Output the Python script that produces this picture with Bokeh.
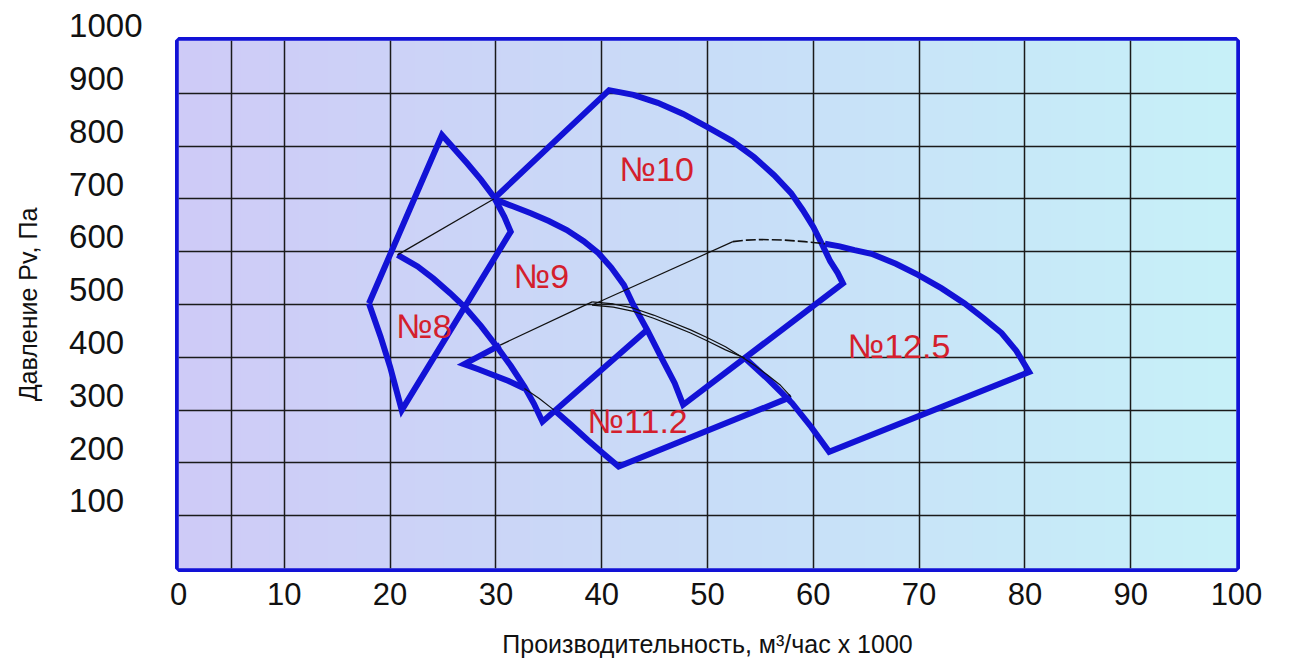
import numpy as np
from bokeh.plotting import figure
from bokeh.models import Range1d, FixedTicker
from bokeh.core.properties import value
from bokeh.embed import file_html
from bokeh.resources import INLINE

# ---------------- data ----------------
x_ticks = [0, 10, 20, 30, 40, 50, 60, 70, 80, 90, 100]
y_ticks = [100, 200, 300, 400, 500, 600, 700, 800, 900, 1000]
x_grid = [5, 10, 20, 30, 40, 50, 60, 70, 80, 90]
y_grid = [100, 200, 300, 400, 500, 600, 700, 800, 900]

fan_names = ["№8", "№9", "№10", "№11.2", "№12.5"]
name_q = [23.2, 34.3, 45.2, 43.4, 68.1]
name_p = [459, 554, 757, 279, 421]

# №8 – closed outline
n8_q = [18.0, 24.9, 26.1, 27.3, 28.6, 29.8, 30.8, 31.4, 21.1, 20.0, 19.1, 18.0]
n8_p = [502, 821, 794, 767, 736, 704, 666, 638, 300, 382, 439, 502]

# №9 – right line + lower curve (thick), left line (thin)
n9_q = [44.3, 34.4, 33.6, 32.7, 31.4, 30.1, 28.6, 27.0, 25.7, 24.1, 22.6, 20.7]
n9_p = [452, 278, 312, 344, 384, 420, 459, 496, 521, 549, 572, 594]
n9_left_q = [20.7, 29.8]
n9_left_p = [594, 700]

# №10 – closed outline (upper curve, right line, lower curve, left line)
n10_q = [29.8, 40.7, 43.0, 45.3, 47.7, 50.0, 52.3, 54.4, 56.3, 57.9, 59.0, 60.0,
         60.8, 61.6, 62.3, 62.8, 47.7, 46.9, 45.6, 44.3, 43.0, 42.1, 40.9, 39.7,
         38.3, 36.7, 35.0, 33.3, 31.6, 29.8]
n10_p = [700, 906, 897, 882, 861, 836, 810, 779, 745, 711, 679, 647,
         615, 582, 560, 540, 310, 351, 401, 452, 499, 537, 570, 597,
         620, 641, 658, 673, 686, 700]

# №11.2
n112_thick_a_q = [30.4, 27.0, 28.4, 29.8, 31.2, 32.7]
n112_thick_a_p = [423, 387, 377, 366, 355, 341]
n112_thin_low_q = [32.7, 34.1, 35.5]
n112_thin_low_p = [341, 322, 300]
n112_thick_b_q = [35.5, 37.1, 38.7, 40.2, 41.6, 57.9]
n112_thick_b_p = [300, 272, 243, 217, 193, 325]
n112_upper_q = [39.1, 41.1, 43.0, 44.9, 46.8, 48.4, 50.0, 51.7, 53.2, 54.5, 55.7, 56.9, 57.9]
n112_upper_p = [505, 501, 493, 480, 465, 452, 437, 420, 401, 384, 366, 347, 325]
n112_left_q = [30.4, 39.1]
n112_left_p = [423, 505]

# №12.5
n125_thick_q = [61.1, 62.5, 63.9, 65.5, 67.8, 69.9, 72.1, 74.3, 76.1, 77.8, 79.2, 80.4,
                61.5, 59.8, 58.0, 55.8, 53.5]
n125_thick_p = [615, 610, 603, 596, 577, 556, 531, 502, 474, 446, 412, 372,
                221, 268, 313, 357, 399]
n125_lower_thin_q = [53.5, 51.7, 50.0, 48.4, 46.8, 44.9, 43.0, 41.1, 39.1]
n125_lower_thin_p = [399, 414, 431, 446, 459, 474, 487, 495, 499]
n125_left_q = [39.1, 52.4]
n125_left_p = [499, 619]
n125_top_q = [52.4, 53.7, 55.1, 57.2, 59.2, 61.1]
n125_top_p = [619, 622, 623, 622, 619, 615]

# ---------------- styling ----------------
BLUE = "#1212d6"
RED = "#d41f2d"
FONT = "Liberation Sans"
FIG = "\u2007"

p = figure(width=1293, height=664, x_range=Range1d(0, 100), y_range=Range1d(0, 1000),
           output_backend="svg", toolbar_location=None,
           min_border_left=178, min_border_right=57, min_border_top=40, min_border_bottom=96)

# gradient background (lavender -> light cyan)
ncol = 256
t = np.linspace(0, 1, ncol)
stops = [0.0, 0.5, 1.0]
r = np.interp(t, stops, [207, 201, 199])
g = np.interp(t, stops, [203, 221, 241])
b = np.interp(t, stops, [247, 248, 249])
img = np.empty((2, ncol), dtype=np.uint32)
view = img.view(dtype=np.uint8).reshape((2, ncol, 4))
view[:, :, 0] = r.astype(np.uint8)
view[:, :, 1] = g.astype(np.uint8)
view[:, :, 2] = b.astype(np.uint8)
view[:, :, 3] = 255
p.image_rgba(image=[img], x=0, y=0, dw=100, dh=1000, level="image")

p.background_fill_color = "white"
p.border_fill_color = "white"
p.outline_line_color = BLUE
p.outline_line_width = 7

p.xgrid.ticker = FixedTicker(ticks=x_grid)
p.ygrid.ticker = FixedTicker(ticks=y_grid)
for gr in (p.xgrid, p.ygrid):
    gr.grid_line_color = "#1a1a1a"
    gr.grid_line_width = 1.5

p.xaxis.ticker = FixedTicker(ticks=x_ticks)
p.yaxis.ticker = FixedTicker(ticks=y_ticks)
for ax in (p.xaxis, p.yaxis):
    ax.axis_line_color = None
    ax.major_tick_line_color = None
    ax.minor_tick_line_color = None
    ax.major_label_text_font = FONT
    ax.major_label_text_color = "#111111"
    ax.axis_label_text_font = FONT
    ax.axis_label_text_font_style = "normal"
    ax.axis_label_text_color = "#111111"
    ax.axis_label_text_font_size = "25px"

p.xaxis.major_label_text_font_size = "31px"
p.yaxis.major_label_text_font_size = "33px"
p.xaxis.major_label_standoff = 8
p.yaxis.major_label_standoff = 30
# labels sit a little above their grid line, left edges aligned as in the reference
p.yaxis.major_label_overrides = {
    v: str(v) + (FIG if v < 1000 else "") + "\n" + FIG for v in y_ticks
}
p.yaxis.major_label_text_line_height = 0.8
p.xaxis.axis_label = "Производительность, м³/час х 1000"
p.yaxis.axis_label = "Давление Pv, Па"
p.xaxis.axis_label_standoff = 22
p.yaxis.axis_label_standoff = 24

# thick boundaries
for q, pr in [(n8_q, n8_p), (n9_q, n9_p), (n10_q, n10_p),
              (n112_thick_a_q, n112_thick_a_p), (n112_thick_b_q, n112_thick_b_p),
              (n125_thick_q, n125_thick_p)]:
    p.line(q, pr, line_color=BLUE, line_width=6, line_join="miter")

# thin boundaries
for q, pr in [(n9_left_q, n9_left_p), (n112_thin_low_q, n112_thin_low_p),
              (n112_upper_q, n112_upper_p), (n112_left_q, n112_left_p),
              (n125_lower_thin_q, n125_lower_thin_p), (n125_left_q, n125_left_p)]:
    p.line(q, pr, line_color="#111111", line_width=1.2)
p.line(n125_top_q, n125_top_p, line_color="#111111", line_width=1.6, line_dash="10 3")

p.text(x=name_q, y=name_p, text=fan_names, text_color=RED,
       text_font=value(FONT), text_font_size="34px",
       text_align="center", text_baseline="middle")

open("out.html", "w").write(file_html(p, INLINE))
